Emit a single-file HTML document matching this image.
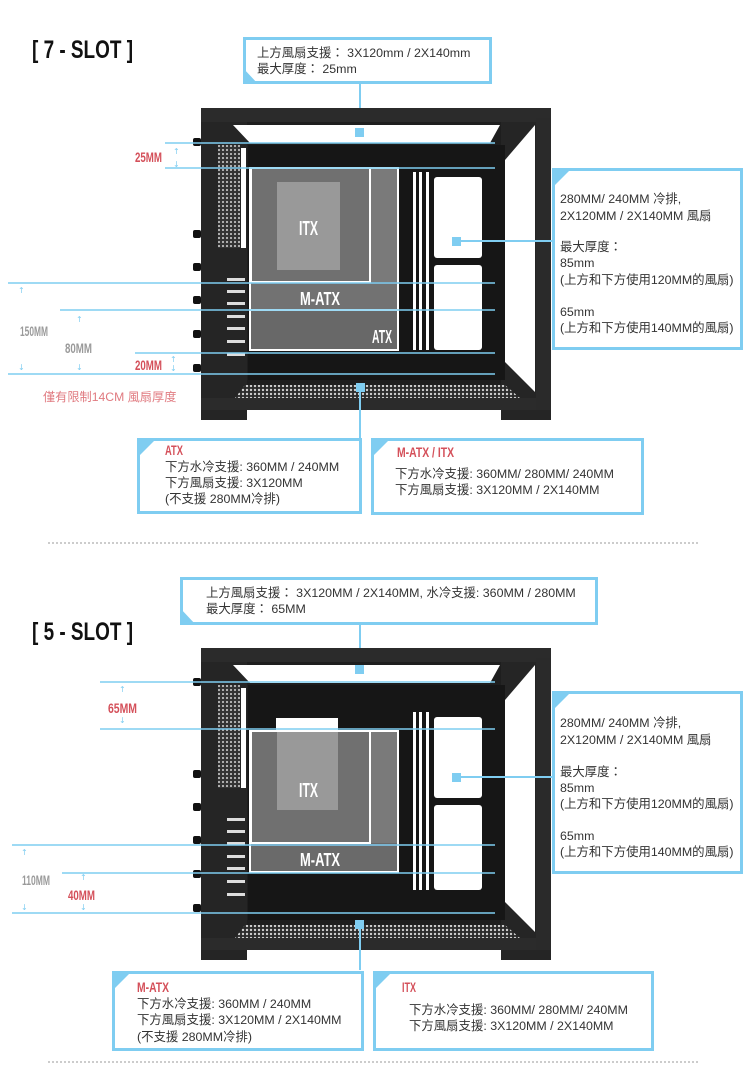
<!DOCTYPE html>
<html><head><meta charset="utf-8"><style>
html,body{margin:0;padding:0;background:#fff;width:750px;height:1065px;overflow:hidden}
svg{display:block}
.t{font-family:"Liberation Sans","Noto Sans CJK TC",sans-serif;font-size:12.4px;fill:#333}
.c{font-family:"Liberation Sans",sans-serif;font-weight:bold}
.r{fill:#d4505a}
.g{fill:#9a9a9a}
.a{font-family:"DejaVu Sans",sans-serif;font-size:8px;fill:#7fcdf1}
</style></head><body>
<svg width="750" height="1065" viewBox="0 0 750 1065" xmlns="http://www.w3.org/2000/svg">
<defs>
<pattern id="mesh" width="4" height="4" patternUnits="userSpaceOnUse"><rect width="4" height="4" fill="#2a2a2a"/><circle cx="2" cy="2" r="1.2" fill="#cfcfcf"/></pattern>
<pattern id="mesh2" width="4" height="4" patternUnits="userSpaceOnUse"><rect width="4" height="4" fill="#333"/><circle cx="2" cy="2" r="1.1" fill="#bbb"/></pattern>
<g id="case">
  <rect x="0" y="0" width="350" height="302" fill="#1e1e1e"/>
  <rect x="0" y="0" width="46" height="312" fill="#252525"/>
  <rect x="300" y="0" width="50" height="312" fill="#252525"/>
  <rect x="0" y="0" width="350" height="14" fill="#2b2b2b"/>
  <polygon points="32,17 299,17 289,35 49,35" fill="#fff"/>
  <polygon points="334,17 334,284 304,254 304,52" fill="#fff"/>
  <rect x="47" y="37" width="257" height="235" fill="#161616"/>
  <polygon points="44,277 304,277 319,290 34,290" fill="url(#mesh)"/>
  <rect x="0" y="290" width="350" height="12" fill="#2b2b2b"/>
  <polygon points="50,302 300,302 290,312 60,312" fill="#fff"/>
  <rect x="335" y="10" width="15" height="292" fill="#2a2a2a"/>
  <rect x="17" y="37" width="22" height="103" fill="url(#mesh2)"/>
  <rect x="40" y="40" width="5" height="100" fill="#fff"/>
  <g fill="#ddd"><rect x="26" y="170" width="18" height="3"/><rect x="26" y="182" width="18" height="3"/><rect x="26" y="194" width="18" height="3"/><rect x="26" y="207" width="18" height="3"/><rect x="26" y="219" width="18" height="3"/><rect x="26" y="232" width="18" height="3"/><rect x="26" y="245" width="18" height="3"/></g>
  <g fill="#111"><rect x="-8" y="30" width="8" height="8" rx="2"/><rect x="-8" y="122" width="8" height="8" rx="2"/><rect x="-8" y="155" width="8" height="8" rx="2"/><rect x="-8" y="188" width="8" height="8" rx="2"/><rect x="-8" y="222" width="8" height="8" rx="2"/><rect x="-8" y="256" width="8" height="8" rx="2"/></g>
  <g fill="#fff"><rect x="212" y="64" width="3" height="178"/><rect x="218" y="64" width="3" height="178"/><rect x="225" y="64" width="3" height="178"/>
  <rect x="233" y="69" width="48" height="81" rx="3"/><rect x="233" y="157" width="48" height="85" rx="3"/></g>
</g>
</defs>

<!-- ===== SECTION 1 ===== -->
<text x="32" y="58" class="c" font-size="25" fill="#111" textLength="101" lengthAdjust="spacingAndGlyphs">[ 7 - SLOT ]</text>

<rect x="244.5" y="38.5" width="246" height="44" fill="#fff" stroke="#7fcdf1" stroke-width="3"/>
<polygon points="243,68 258,84 243,84" fill="#7fcdf1"/>
<text x="257" y="57" class="t">上方風扇支援： 3X120mm / 2X140mm</text>
<text x="257" y="73" class="t">最大厚度： 25mm</text>
<line x1="360" y1="84" x2="360" y2="130" stroke="#7fcdf1" stroke-width="2"/>

<use href="#case" x="201" y="108"/>
<rect x="250" y="168" width="148" height="182" fill="#686868" stroke="#fff" stroke-width="2"/>
<rect x="370" y="169" width="27" height="113" fill="#7a7a7a"/>
<rect x="251" y="168" width="119" height="114" fill="#707070" stroke="#fff" stroke-width="2"/>
<rect x="277" y="182" width="63" height="88" fill="#999"/>
<line x1="250" y1="310" x2="398" y2="310" stroke="#fff" stroke-width="2"/>
<rect x="251" y="283" width="146" height="26" fill="#727272"/>
<text x="299" y="235" class="c" font-size="20" fill="#fff" textLength="19" lengthAdjust="spacingAndGlyphs">ITX</text>
<text x="300" y="305" class="c" font-size="18" fill="#fff" textLength="40" lengthAdjust="spacingAndGlyphs">M-ATX</text>
<text x="372" y="343" class="c" font-size="18" fill="#fff" textLength="20" lengthAdjust="spacingAndGlyphs">ATX</text>
<rect x="355" y="128" width="9" height="9" fill="#7fcdf1"/>

<g stroke="#7fcdf1" stroke-width="1.5">
<line x1="165" y1="143" x2="495" y2="143"/><line x1="165" y1="168" x2="495" y2="168"/>
<line x1="8" y1="283" x2="495" y2="283"/><line x1="60" y1="310" x2="495" y2="310"/>
<line x1="135" y1="353" x2="495" y2="353"/><line x1="8" y1="374" x2="495" y2="374"/>
</g>
<text x="135" y="162" class="c r" font-size="14" textLength="27" lengthAdjust="spacingAndGlyphs">25MM</text>
<text x="173" y="154" class="a">↑</text><text x="173" y="167" class="a">↓</text>
<text x="20" y="336" class="c g" font-size="14" textLength="28" lengthAdjust="spacingAndGlyphs">150MM</text>
<text x="18" y="293" class="a">↑</text><text x="18" y="370" class="a">↓</text>
<text x="65" y="353" class="c g" font-size="14" textLength="27" lengthAdjust="spacingAndGlyphs">80MM</text>
<text x="76" y="322" class="a">↑</text><text x="76" y="370" class="a">↓</text>
<text x="135" y="370" class="c r" font-size="14" textLength="27" lengthAdjust="spacingAndGlyphs">20MM</text>
<text x="170" y="362" class="a">↑</text><text x="170" y="371" class="a">↓</text>
<text x="43" y="401" class="t" style="fill:#e07a80;font-size:12.2px">僅有限制14CM 風扇厚度</text>

<rect x="553.5" y="169.5" width="188" height="179" fill="#fff" stroke="#7fcdf1" stroke-width="3"/>
<polygon points="552,168 572,168 552,188" fill="#7fcdf1"/>
<text x="560" y="203" class="t">280MM/ 240MM 冷排,</text>
<text x="560" y="220" class="t">2X120MM / 2X140MM 風扇</text>
<text x="560" y="251" class="t">最大厚度：</text>
<text x="560" y="267" class="t">85mm</text>
<text x="560" y="284" class="t">(上方和下方使用120MM的風扇)</text>
<text x="560" y="316" class="t">65mm</text>
<text x="560" y="332" class="t">(上方和下方使用140MM的風扇)</text>
<line x1="458" y1="241" x2="552" y2="241" stroke="#7fcdf1" stroke-width="2"/>
<rect x="452" y="237" width="9" height="9" fill="#7fcdf1"/>

<line x1="360" y1="388" x2="360" y2="438" stroke="#7fcdf1" stroke-width="2"/>
<rect x="356" y="383" width="9" height="9" fill="#7fcdf1"/>

<rect x="138.5" y="439.5" width="222" height="73" fill="#fff" stroke="#7fcdf1" stroke-width="3"/>
<polygon points="137,438 157,438 137,458" fill="#7fcdf1"/>
<text x="165" y="455" class="c r" font-size="14" textLength="18" lengthAdjust="spacingAndGlyphs">ATX</text>
<text x="165" y="471" class="t">下方水冷支援: 360MM / 240MM</text>
<text x="165" y="487" class="t">下方風扇支援: 3X120MM</text>
<text x="165" y="503" class="t">(不支援 280MM冷排)</text>

<rect x="372.5" y="439.5" width="270" height="74" fill="#fff" stroke="#7fcdf1" stroke-width="3"/>
<polygon points="371,438 391,438 371,458" fill="#7fcdf1"/>
<text x="397" y="457" class="c r" font-size="14" textLength="57" lengthAdjust="spacingAndGlyphs">M-ATX / ITX</text>
<text x="395" y="478" class="t">下方水冷支援: 360MM/ 280MM/ 240MM</text>
<text x="395" y="494" class="t">下方風扇支援: 3X120MM / 2X140MM</text>

<line x1="48" y1="543" x2="700" y2="543" stroke="#ccc" stroke-width="2" stroke-dasharray="2 2"/>

<!-- ===== SECTION 2 ===== -->
<rect x="181.5" y="578.5" width="415" height="45" fill="#fff" stroke="#7fcdf1" stroke-width="3"/>
<polygon points="180,608 196,625 180,625" fill="#7fcdf1"/>
<text x="206" y="597" class="t">上方風扇支援： 3X120MM / 2X140MM, 水冷支援: 360MM / 280MM</text>
<text x="206" y="613" class="t">最大厚度： 65MM</text>
<text x="32" y="640" class="c" font-size="25" fill="#111" textLength="101" lengthAdjust="spacingAndGlyphs">[ 5 - SLOT ]</text>
<line x1="360" y1="625" x2="360" y2="668" stroke="#7fcdf1" stroke-width="2"/>

<use href="#case" x="201" y="648"/>
<rect x="276" y="718" width="62" height="14" fill="#fff"/>
<rect x="250" y="731" width="148" height="141" fill="#6a6a6a" stroke="#fff" stroke-width="2"/>
<rect x="370" y="732" width="27" height="111" fill="#7a7a7a"/>
<rect x="251" y="731" width="119" height="112" fill="#707070" stroke="#fff" stroke-width="2"/>
<rect x="277" y="732" width="61" height="78" fill="#999"/>
<text x="299" y="797" class="c" font-size="20" fill="#fff" textLength="19" lengthAdjust="spacingAndGlyphs">ITX</text>
<text x="300" y="866" class="c" font-size="18" fill="#fff" textLength="40" lengthAdjust="spacingAndGlyphs">M-ATX</text>
<rect x="355" y="665" width="9" height="9" fill="#7fcdf1"/>

<g stroke="#7fcdf1" stroke-width="1.5">
<line x1="100" y1="682" x2="495" y2="682"/><line x1="100" y1="729" x2="495" y2="729"/>
<line x1="12" y1="845" x2="495" y2="845"/><line x1="62" y1="873" x2="495" y2="873"/>
<line x1="12" y1="913" x2="495" y2="913"/>
</g>
<text x="108" y="713" class="c r" font-size="14" textLength="29" lengthAdjust="spacingAndGlyphs">65MM</text>
<text x="119" y="692" class="a">↑</text><text x="119" y="723" class="a">↓</text>
<text x="22" y="885" class="c g" font-size="14" textLength="28" lengthAdjust="spacingAndGlyphs">110MM</text>
<text x="21" y="855" class="a">↑</text><text x="21" y="910" class="a">↓</text>
<text x="68" y="900" class="c r" font-size="14" textLength="27" lengthAdjust="spacingAndGlyphs">40MM</text>
<text x="80" y="880" class="a">↑</text><text x="80" y="910" class="a">↓</text>

<rect x="553.5" y="692.5" width="188" height="180" fill="#fff" stroke="#7fcdf1" stroke-width="3"/>
<polygon points="552,691 572,691 552,711" fill="#7fcdf1"/>
<text x="560" y="727" class="t">280MM/ 240MM 冷排,</text>
<text x="560" y="744" class="t">2X120MM / 2X140MM 風扇</text>
<text x="560" y="776" class="t">最大厚度：</text>
<text x="560" y="792" class="t">85mm</text>
<text x="560" y="808" class="t">(上方和下方使用120MM的風扇)</text>
<text x="560" y="840" class="t">65mm</text>
<text x="560" y="856" class="t">(上方和下方使用140MM的風扇)</text>
<line x1="458" y1="777" x2="552" y2="777" stroke="#7fcdf1" stroke-width="2"/>
<rect x="452" y="773" width="9" height="9" fill="#7fcdf1"/>

<line x1="360" y1="925" x2="360" y2="970" stroke="#7fcdf1" stroke-width="2"/>
<rect x="355" y="920" width="9" height="9" fill="#7fcdf1"/>

<rect x="113.5" y="972.5" width="249" height="77" fill="#fff" stroke="#7fcdf1" stroke-width="3"/>
<polygon points="112,971 132,971 112,991" fill="#7fcdf1"/>
<text x="137" y="992" class="c r" font-size="14" textLength="32" lengthAdjust="spacingAndGlyphs">M-ATX</text>
<text x="137" y="1008" class="t">下方水冷支援: 360MM / 240MM</text>
<text x="137" y="1024" class="t">下方風扇支援: 3X120MM / 2X140MM</text>
<text x="137" y="1041" class="t">(不支援 280MM冷排)</text>

<rect x="374.5" y="972.5" width="278" height="77" fill="#fff" stroke="#7fcdf1" stroke-width="3"/>
<polygon points="373,971 393,971 373,991" fill="#7fcdf1"/>
<text x="402" y="992" class="c r" font-size="14" textLength="14" lengthAdjust="spacingAndGlyphs">ITX</text>
<text x="409" y="1014" class="t">下方水冷支援: 360MM/ 280MM/ 240MM</text>
<text x="409" y="1030" class="t">下方風扇支援: 3X120MM / 2X140MM</text>

<line x1="48" y1="1062" x2="700" y2="1062" stroke="#ccc" stroke-width="2" stroke-dasharray="2 2"/>
</svg>
</body></html>
